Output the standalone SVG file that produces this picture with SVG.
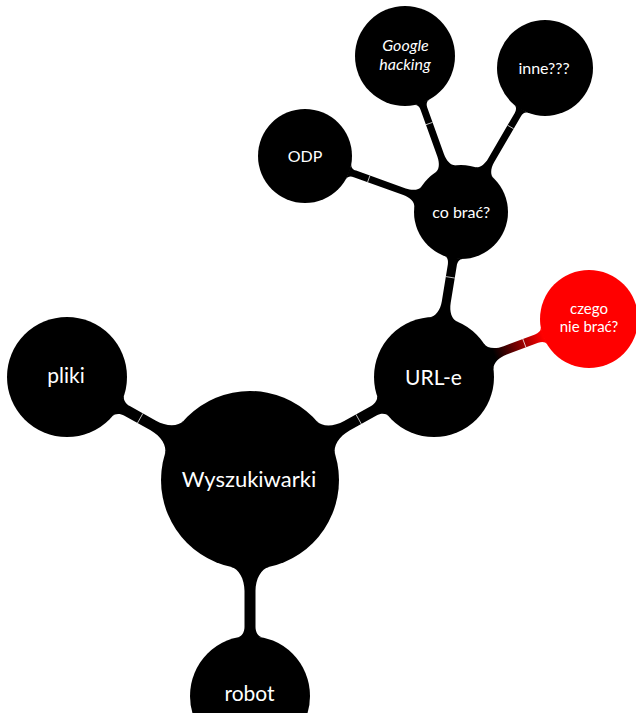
<svg xmlns="http://www.w3.org/2000/svg" width="636" height="713" viewBox="0 0 636 713">
<style>
.bar{fill:#000}
.tick{stroke:#fff;stroke-width:0.8;opacity:0.85}
.node{fill:#000}
.red{fill:#ff0000}
text{fill:#fff;font-family:Lato,"Open Sans","DejaVu Sans",sans-serif;text-anchor:middle}
.l0{font-size:22px}
.l1{font-size:21px}
.l2{font-size:16px}
.l2s{font-size:15px}
</style>
<defs>
<linearGradient id="gRed" gradientUnits="userSpaceOnUse" x1="64" y1="0" x2="116" y2="0">
<stop offset="0" stop-color="#000"/>
<stop offset="1" stop-color="#ff0000"/>
</linearGradient>
</defs>
<rect width="636" height="713" fill="#fff"/>
<g id="connectors">
<g transform="translate(250,480) rotate(209.37)">
<path class="bar" d="M86.95,19 C88.66,11.18 99,5.5 111,5.5 L141,5.5 C146,5.5 150.41,8.08 151.21,12 L151.21,-12 C150.41,-8.08 146,-5.5 141,-5.5 L111,-5.5 C99,-5.5 88.66,-11.18 86.95,-19Z"/>
<line class="tick" x1="126" y1="-5.5" x2="126" y2="5.5"/>
</g>
<g transform="translate(250,480) rotate(-29.24)">
<path class="bar" d="M86.95,19 C88.66,11.18 99,5.5 111,5.5 L141.9,5.5 C146.9,5.5 151.31,8.08 152.11,12 L152.11,-12 C151.31,-8.08 146.9,-5.5 141.9,-5.5 L111,-5.5 C99,-5.5 88.66,-11.18 86.95,-19Z"/>
<line class="tick" x1="124.5" y1="-5.5" x2="124.5" y2="5.5"/>
</g>
<g transform="translate(250,480) rotate(90)">
<path class="bar" d="M86.95,19 C88.66,11.18 99,5.5 111,5.5 L147,5.5 C152,5.5 156.41,8.08 157.21,12 L157.21,-12 C156.41,-8.08 152,-5.5 147,-5.5 L111,-5.5 C99,-5.5 88.66,-11.18 86.95,-19Z"/>
</g>
<g transform="translate(434,377) rotate(-80.71)">
<path class="bar" d="M58.34,14 C59.74,8.17 67,4.5 76,4.5 L113.2,4.5 C117.2,4.5 120.5,6.06 121.07,9 L121.07,-9 C120.5,-6.06 117.2,-4.5 113.2,-4.5 L76,-4.5 C67,-4.5 59.74,-8.17 58.34,-14Z"/>
<line class="tick" x1="101" y1="-4.5" x2="101" y2="4.5"/>
</g>
<g transform="translate(434,377) rotate(-20.51)">
<path fill="url(#gRed)" d="M58.34,14 C59.74,8.17 67,4.5 76,4.5 L109.5,4.5 C113.5,4.5 116.76,6.06 117.33,9 L117.33,-9 C116.76,-6.06 113.5,-4.5 109.5,-4.5 L76,-4.5 C67,-4.5 59.74,-8.17 58.34,-14Z"/>
<line class="tick" x1="96.5" y1="-4.5" x2="96.5" y2="4.5"/>
</g>
<g transform="translate(461,212) rotate(199.75)">
<path class="bar" d="M45.69,11 C46.86,6.14 53,3.5 60,3.5 L112.7,3.5 C116.2,3.5 118.88,5.05 119.39,8 L119.39,-8 C118.88,-5.05 116.2,-3.5 112.7,-3.5 L60,-3.5 C53,-3.5 46.86,-6.14 45.69,-11Z"/>
<line class="tick" x1="98" y1="-3.5" x2="98" y2="3.5"/>
</g>
<g transform="translate(461,212) rotate(-109.75)">
<path class="bar" d="M45.69,11 C46.86,6.14 53,3.5 60,3.5 L109.7,3.5 C113.2,3.5 115.83,5.05 116.34,8 L116.34,-8 C115.83,-5.05 113.2,-3.5 109.7,-3.5 L60,-3.5 C53,-3.5 46.86,-6.14 45.69,-11Z"/>
<line class="tick" x1="94" y1="-3.5" x2="94" y2="3.5"/>
</g>
<g transform="translate(461,212) rotate(-59.74)">
<path class="bar" d="M45.69,11 C46.86,6.14 53,3.5 60,3.5 L112.7,3.5 C116.2,3.5 118.86,5.05 119.37,8 L119.37,-8 C118.86,-5.05 116.2,-3.5 112.7,-3.5 L60,-3.5 C53,-3.5 46.86,-6.14 45.69,-11Z"/>
<line class="tick" x1="98.4" y1="-3.5" x2="98.4" y2="3.5"/>
</g>
</g>
<g id="wyszukiwarki">
<circle class="node" cx="250" cy="480" r="89"/>
<text class="l0" x="249" y="487.3">Wyszukiwarki</text>
</g>
<g id="pliki">
<circle class="node" cx="67" cy="377" r="60"/>
<text class="l1" x="66" y="383">pliki</text>
</g>
<g id="url-e">
<circle class="node" cx="434" cy="377" r="60"/>
<text class="l1" x="433.5" y="385">URL-e</text>
</g>
<g id="robot">
<circle class="node" cx="250" cy="696" r="60"/>
<text class="l1" x="249.5" y="700.7">robot</text>
</g>
<g id="co-brac">
<circle class="node" cx="461" cy="212" r="47"/>
<text class="l2" x="461.2" y="218.3">co brać?</text>
</g>
<g id="czego-nie-brac">
<circle class="red" cx="589" cy="319" r="49"/>
<text class="l2s" x="589" y="313.5">czego</text>
<text class="l2s" x="589" y="332">nie brać?</text>
</g>
<g id="odp">
<circle class="node" cx="305" cy="156" r="47"/>
<text class="l2" x="305" y="161.7">ODP</text>
</g>
<g id="google-hacking">
<circle class="node" cx="405" cy="56" r="50"/>
<text class="l2" x="405.5" y="51.2" font-style="italic">Google</text>
<text class="l2" x="405" y="70" font-style="italic">hacking</text>
</g>
<g id="inne">
<circle class="node" cx="545" cy="68" r="48"/>
<text class="l2" x="544" y="74">inne???</text>
</g>
</svg>
